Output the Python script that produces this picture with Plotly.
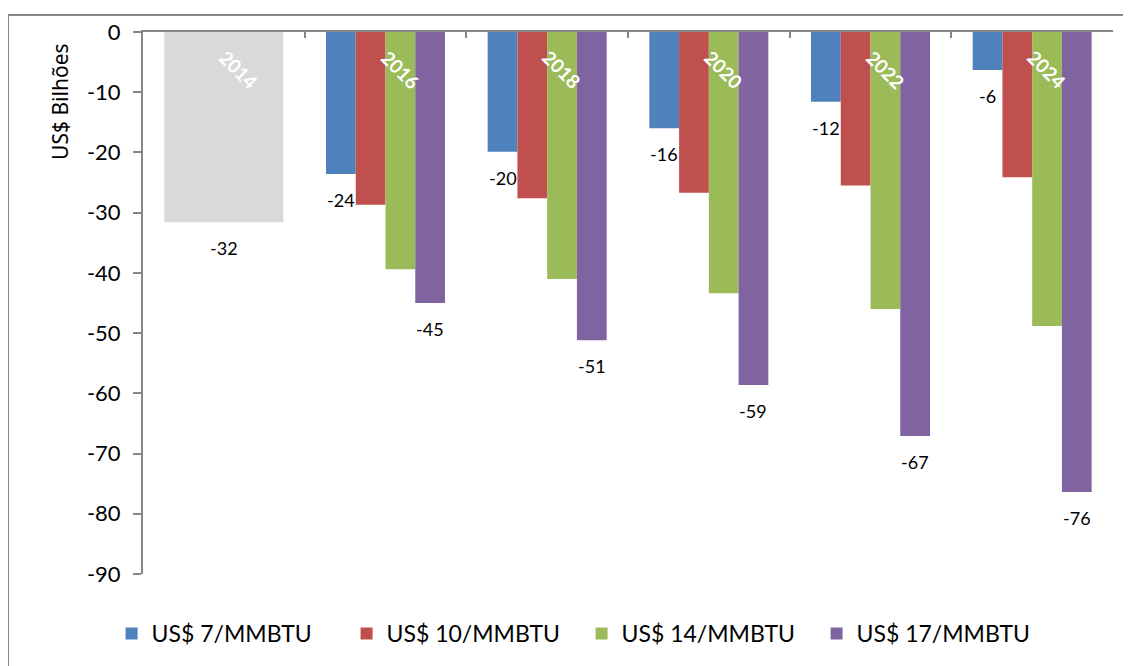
import plotly.graph_objects as go

years = ["2014", "2016", "2018", "2020", "2022", "2024"]
base_2014 = [-31.6]
series_names = ["US$ 7/MMBTU", "US$ 10/MMBTU", "US$ 14/MMBTU", "US$ 17/MMBTU"]
usd7 = [-23.6, -19.9, -16.0, -11.6, -6.3]
usd10 = [-28.7, -27.6, -26.7, -25.5, -24.1]
usd14 = [-39.4, -41.0, -43.4, -46.0, -48.8]
usd17 = [-45.0, -51.2, -58.6, -67.1, -76.4]
labelled = [True, False, False, True]  # which series carry value labels
y_ticks = [0, -10, -20, -30, -40, -50, -60, -70, -80, -90]

colors = ["#4F81BD", "#C0504D", "#9BBB59", "#8064A2"]
gray = "#D9D9D9"
axis_color = "#868686"
FONT = "Lato"

group_w = 0.736
bar_w = group_w / 4

fig = go.Figure()

fig.add_trace(go.Bar(
    x=years[:1], y=base_2014, marker=dict(color=gray, line=dict(width=0)),
    width=group_w, offset=-group_w / 2, showlegend=False, hoverinfo="y",
))

all_series = [usd7, usd10, usd14, usd17]
for i, (name, vals, col) in enumerate(zip(series_names, all_series, colors)):
    fig.add_trace(go.Bar(
        x=years[1:], y=vals, name=name,
        marker=dict(color=col, line=dict(width=0)),
        width=bar_w, offset=-group_w / 2 + i * bar_w,
    ))

annotations = []
# value labels
label_font = dict(family=FONT, size=18, color="#000000")
for v in base_2014:
    annotations.append(dict(x=0, y=v, xref="x", yref="y", text=f"{round(v):d}",
                            showarrow=False, yshift=-26, font=label_font))
for i, (vals, show) in enumerate(zip(all_series, labelled)):
    if not show:
        continue
    center = -group_w / 2 + (i + 0.5) * bar_w
    for j, v in enumerate(vals):
        annotations.append(dict(x=j + 1 + center, y=v, xref="x", yref="y",
                                text=f"{round(v):d}", showarrow=False, yshift=-26,
                                font=label_font))
# year labels (white, rotated, inside the bars)
for j, yr in enumerate(years):
    annotations.append(dict(x=j, y=0, xref="x", yref="y", text=f"<b>{yr}</b>",
                            showarrow=False, textangle=45, xshift=15, yshift=-37,
                            font=dict(family=FONT, size=19, color="#FFFFFF")))
# y axis title
annotations.append(dict(x=-0.0856, y=0.871, xref="paper", yref="paper",
                        xanchor="center", yanchor="middle",
                        text="US$ Bilhões", textangle=-90, showarrow=False,
                        font=dict(family="Noto Sans", size=21, color="#000000")))

fig.update_layout(
    width=1123, height=658,
    margin=dict(l=135, r=18, t=24, b=92, autoexpand=False),
    paper_bgcolor="#FFFFFF", plot_bgcolor="#FFFFFF",
    barmode="overlay",
    font=dict(family=FONT, size=22, color="#000000"),
    xaxis=dict(type="category", side="top", showline=True, linecolor=axis_color,
               linewidth=2, ticks="inside", tickson="boundaries", ticklen=6,
               tickwidth=2, tickcolor=axis_color, showticklabels=False,
               showgrid=False, zeroline=False, range=[-0.5, 5.5]),
    yaxis=dict(range=[-90, 0], tickmode="array", tickvals=y_ticks,
               ticktext=[str(t) for t in y_ticks],
               showline=True, linecolor=axis_color,
               linewidth=2, ticks="outside", ticklen=8, tickwidth=2,
               tickcolor=axis_color, showgrid=False, zeroline=False,
               ticklabelstandoff=8,
               tickfont=dict(family=FONT, size=22, color="#000000")),
    legend=dict(orientation="h", x=-0.0324, xanchor="left", y=-0.07, yanchor="top",
                font=dict(family=FONT, size=23, color="#000000"),
                entrywidthmode="pixels", entrywidth=190,
                bgcolor="rgba(0,0,0,0)", itemclick=False),
    annotations=annotations,
    shapes=[dict(type="rect", xref="paper", yref="paper",
                 x0=-0.1392, x1=1.2, y0=-0.3, y1=1.0314,
                 line=dict(color=axis_color, width=2), layer="below")],
)

fig.write_html("out.html")
